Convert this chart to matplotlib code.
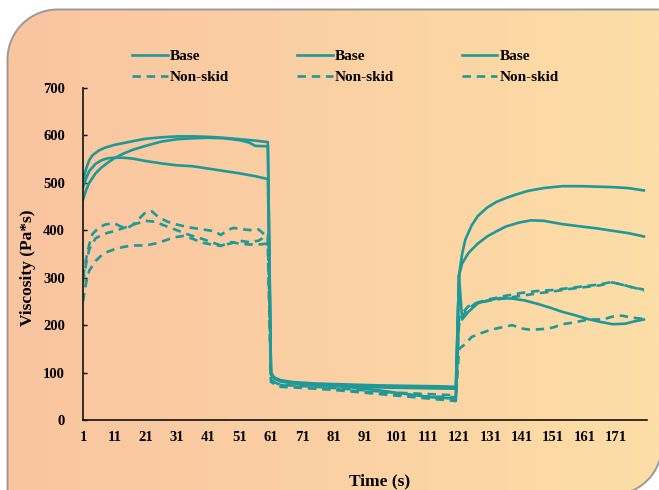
import numpy as np
import matplotlib
matplotlib.use("Agg")
import matplotlib.pyplot as plt
from matplotlib.patches import PathPatch
from matplotlib.path import Path

# ---------------- data ----------------
base_a_t = [1,2,3,4,6,8,11,14,17,21,26,31,36,41,46,51,56,60,
            61,62,64,68,75,85,95,105,115,120,
            121,122,123,125,127,130,133,136,139,143,148,154,160,165,170,175,180]
base_a_v = [505,530,548,558,568,574,580,584,588,593,596,598,598,597,595,592,589,586,
            100,90,84,80,77,75,73,72,71,70,
            305,350,380,410,430,448,460,468,475,483,489,493,493,492,491,489,484]

base_b_t = [1,2,3,5,7,9,11,14,17,21,26,31,36,41,46,51,54,56,60,
            61,62,64,68,75,85,95,105,112,120,
            121,122,124,127,130,133,136,140,144,148,154,160,165,170,175,180]
base_b_v = [465,485,500,520,533,543,552,562,570,578,587,592,594,595,594,590,585,578,577,
            95,88,82,78,74,70,63,54,48,45,
            305,330,352,372,387,398,408,416,421,420,413,408,404,399,394,387]

base_c_t = [1,2,3,5,7,9,11,14,17,21,26,31,36,41,46,51,56,60,
            61,62,64,70,80,90,100,110,120,
            121,122,124,127,130,134,138,142,146,150,154,158,162,166,170,174,177,180]
base_c_v = [490,510,525,540,548,552,553,553,551,546,541,537,535,530,525,520,514,508,
            98,88,81,76,72,70,68,67,66,
            305,212,228,246,252,257,256,252,245,237,228,221,213,207,202,203,208,212]

ns_a_t = [1,2,3,4,6,8,11,13,15,17,19,21,23,25,28,31,35,39,43,45,47,49,52,55,57,60,
          61,62,64,70,80,90,100,110,120,
          121,122,124,127,131,136,141,146,151,156,161,166,169,172,175,178,180]
ns_a_v = [300,340,370,392,405,412,415,408,404,412,425,438,440,428,418,412,406,402,398,390,400,405,402,400,402,385,
          90,80,74,72,68,63,58,55,52,
          215,225,240,248,255,262,268,272,274,278,282,286,290,287,282,277,272]

ns_b_t = [1,2,3,5,7,9,11,14,17,21,24,27,31,35,39,42,45,48,51,54,57,60,
          61,63,66,70,80,90,100,110,120,
          121,123,126,131,136,141,146,151,156,161,166,170,173,176,180]
ns_b_v = [290,330,360,383,390,395,398,405,412,420,418,410,400,390,382,375,368,372,378,375,378,390,
          80,75,72,70,66,60,55,50,48,
          200,228,245,252,257,262,267,271,276,280,284,290,286,280,275]

ns_c_t = [1,2,3,5,7,9,11,14,17,21,24,27,30,33,36,39,42,45,48,51,54,57,60,
          61,62,64,70,80,90,100,110,120,
          121,123,125,128,131,135,138,141,144,148,151,154,157,161,164,167,170,173,176,180]
ns_c_v = [250,290,315,335,348,355,360,365,368,368,372,378,385,388,382,374,370,367,375,372,370,370,372,
          85,75,70,68,64,58,52,46,40,
          150,160,175,183,190,196,200,193,190,192,195,202,205,210,212,212,218,220,216,213]

series_labels = ["Base", "Non-skid", "Base", "Non-skid", "Base", "Non-skid"]
x_tick_values = [1, 11, 21, 31, 41, 51, 61, 71, 81, 91, 101, 111, 121, 131, 141, 151, 161, 171]
y_tick_values = [0, 100, 200, 300, 400, 500, 600, 700]
x_label = "Time (s)"
y_label = "Viscosity (Pa*s)"

# ---------------- style ----------------
W, H = 659, 490
teal = "#1f9898"
serif = ["Liberation Serif", "DejaVu Serif"]
plt.rcParams["font.family"] = serif
plt.rcParams["font.weight"] = "bold"

fig = plt.figure(figsize=(W / 100, H / 100), dpi=100, facecolor="white")

# background panel: gradient, rounded top-left and bottom-right corners
bg = fig.add_axes([0, 0, 1, 1], zorder=-5)
bg.set_xlim(0, W)
bg.set_ylim(0, H)
bg.axis("off")
left_c = np.array([249, 196, 160]) / 255
right_c = np.array([253, 222, 167]) / 255
frac = np.linspace(0, 1, 256)
grad = left_c[None, :] * (1 - frac[:, None]) + right_c[None, :] * frac[:, None]
img = bg.imshow(grad[None, :, :], extent=[0, W, 0, H], aspect="auto", zorder=0)

L, T, R, B, rad = 7.5, 480.5, 662.0, -5.0, 50.0
ang1 = np.linspace(np.pi, np.pi / 2, 30)
arc_tl = np.column_stack([L + rad + rad * np.cos(ang1), T - rad + rad * np.sin(ang1)])
ang2 = np.linspace(0, -np.pi / 2, 30)
arc_br = np.column_stack([R - rad + rad * np.cos(ang2), B + rad + rad * np.sin(ang2)])
verts = np.vstack([[[L, -20]], arc_tl, [[W + 20, T]], [[W + 20, T]],
                   [[R, B + rad + 200]], arc_br, [[L, -20]]])
# make the right side follow x=R below the top line
verts = np.vstack([[[L, -20]], arc_tl, [[R, T]], [[R, B + rad]], arc_br[1:], [[L, B]], [[L, -20]]])
path = Path(verts, closed=False)
fill_patch = PathPatch(path, facecolor="none", edgecolor="none", transform=bg.transData)
bg.add_patch(fill_patch)
img.set_clip_path(fill_patch)
edge = PathPatch(path, facecolor="none", edgecolor="#9a9a9a", linewidth=1.4, zorder=3)
bg.add_patch(edge)

ax = fig.add_axes([83 / W, 1 - 420 / H, (647 - 83) / W, (420 - 88) / H])
ax.set_facecolor("none")

lw = 1.9
dash = (0, (3.2, 2.2))
h1, = ax.plot(base_a_t, base_a_v, color=teal, lw=lw, solid_joinstyle="round")
h2, = ax.plot(ns_a_t, ns_a_v, color=teal, lw=lw, linestyle=dash)
h3, = ax.plot(base_b_t, base_b_v, color=teal, lw=lw, solid_joinstyle="round")
h4, = ax.plot(ns_b_t, ns_b_v, color=teal, lw=lw, linestyle=dash)
h5, = ax.plot(base_c_t, base_c_v, color=teal, lw=lw, solid_joinstyle="round")
h6, = ax.plot(ns_c_t, ns_c_v, color=teal, lw=lw, linestyle=dash)

ax.set_xlim(1, 181)
ax.set_ylim(0, 700)
ax.set_xticks(x_tick_values)
ax.set_xticklabels([str(v) for v in x_tick_values])
ax.set_yticks(y_tick_values)
ax.set_yticklabels([str(v) for v in y_tick_values])
ax.tick_params(axis="x", length=0, pad=8, labelsize=10.5)
ax.tick_params(axis="y", direction="in", length=3, width=1, pad=13, labelsize=10.5)
for lab in ax.get_xticklabels() + ax.get_yticklabels():
    lab.set_fontweight("bold")
for s in ["top", "right"]:
    ax.spines[s].set_visible(False)
for s in ["left", "bottom"]:
    ax.spines[s].set_linewidth(1.2)
    ax.spines[s].set_color("#111111")

fig.text(380 / W, 1 - 481 / H, x_label, ha="center", va="center",
         fontsize=12.5, fontweight="bold")
fig.text(28 / W, 1 - 268 / H, y_label, ha="center", va="center", rotation=90,
         fontsize=12.5, fontweight="bold")

leg = fig.legend([h1, h2, h3, h4, h5, h6], series_labels, ncol=3,
                 loc="upper left", bbox_to_anchor=(124 / W, 1 - 42 / H),
                 frameon=False, handlelength=2.35, handletextpad=0.12,
                 columnspacing=4.45, labelspacing=0.45, borderpad=0,
                 prop={"family": serif, "weight": "bold", "size": 11})

fig.savefig("out.png", dpi=100, facecolor="white")
